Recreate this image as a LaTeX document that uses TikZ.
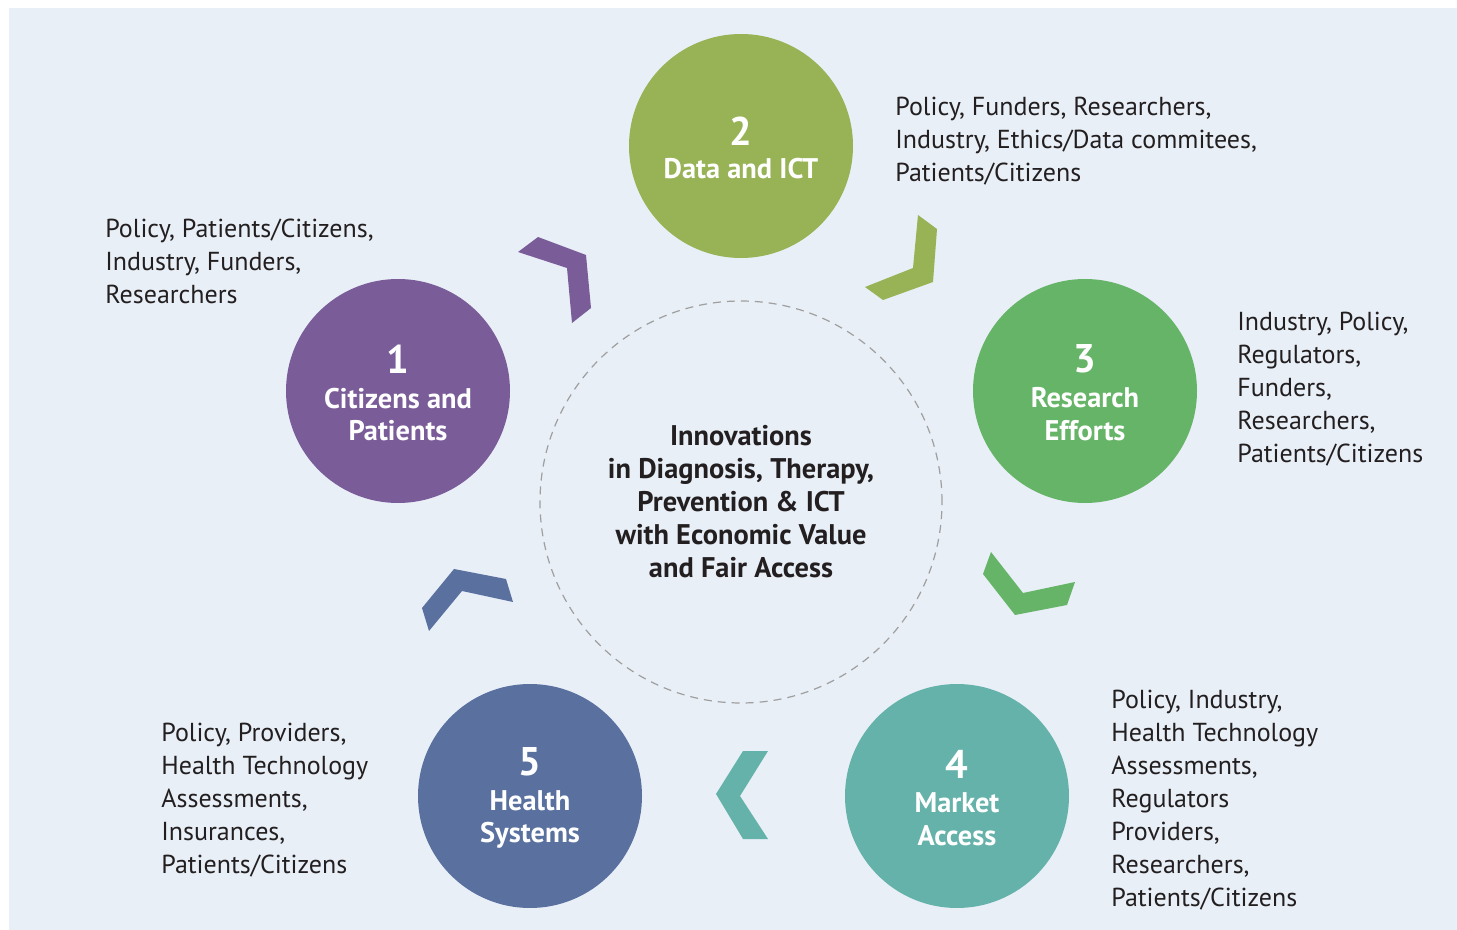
\documentclass[tikz,border=0pt]{standalone}
\usepackage{fontspec}
\setmainfont{PT Sans}
\usetikzlibrary{positioning}

\definecolor{bgblue}{HTML}{E8EFF7}
\definecolor{ink}{HTML}{231F20}
\definecolor{purp}{HTML}{7A5C99}
\definecolor{olive}{HTML}{97B355}
\definecolor{grn}{HTML}{66B468}
\definecolor{teal}{HTML}{64B2A9}
\definecolor{navy}{HTML}{5A71A0}

\newcommand{\stnum}[1]{{\fontsize{20}{20}\selectfont #1}}

\begin{document}
\begin{tikzpicture}[x=0.5pt, y=-0.5pt,
    stage/.style={circle, minimum size=112pt, inner sep=0, fill=#1},
    stagetext/.style={inner sep=0, yshift=-1pt, text=white, align=center,
      font=\bfseries\fontsize{14.2}{16.4}\selectfont},
    actors/.style={anchor=north west, inner sep=0, align=left, text=ink,
      font=\fontsize{13}{16.5}\selectfont},
    core/.style={circle, minimum size=201pt, inner sep=0, draw=gray!75, line width=0.6pt,
      dash pattern=on 4pt off 3pt, text=ink, align=center,
      font=\bfseries\fontsize{14.2}{16.5}\selectfont}]

    % 1. Fondo
    \useasboundingbox (0,0) rectangle (1457,930);
    \fill[bgblue] (9,8) rectangle (1457,930);

    % 2. Circulo central (punteado)
    \node[core] (core) at (741,502) {Innovations\\in Diagnosis, Therapy,\\Prevention \& ICT\\with Economic Value\\and Fair Access};

    % 3. Las cinco etapas
    \node[stage=purp]  (s1) at (398,391)  {};
    \node[stage=olive] (s2) at (741,146)  {};
    \node[stage=grn]   (s3) at (1085,391) {};
    \node[stage=teal]  (s4) at (957,796)  {};
    \node[stage=navy]  (s5) at (530,796)  {};
    \node[stagetext] (t1) at (s1) {\stnum{1}\\[1pt]Citizens and\\Patients};
    \node[stagetext] (t2) at (s2) {\stnum{2}\\[0pt]Data and ICT};
    \node[stagetext] (t3) at (s3) {\stnum{3}\\[1pt]Research\\Efforts};
    \node[stagetext] (t4) at (s4) {\stnum{4}\\[1pt]Market\\Access};
    \node[stagetext] (t5) at (s5) {\stnum{5}\\[1pt]Health\\Systems};

    % 4. Flechas (chevrons) entre etapas
    \fill[purp]  (518,252) -- (538,237) -- (586,255) -- (591,308) -- (572,323) -- (567,268) -- cycle;
    \fill[olive] (918,215) -- (937,229) -- (933,282) -- (883,300) -- (865,287) -- (913,268) -- cycle;
    \fill[grn]   (991,552) -- (983,574) -- (1015,615) -- (1067,605) -- (1075,582) -- (1023,593) -- cycle;
    \fill[teal]  (768,751) -- (743,751) -- (716,794) -- (743,839) -- (768,839) -- (740,796) -- cycle;
    \fill[navy]  (429,631) -- (422,608) -- (454,569) -- (506,579) -- (513,602) -- (462,591) -- cycle;

    % 5. Actores de cada etapa
    \node[actors] (a1) at (105,219) {Policy, Patients/Citizens,\\Industry, Funders,\\Researchers};
    \node[actors] (a2) at (895,97)  {Policy, Funders, Researchers,\\Industry, Ethics/Data commitees,\\Patients/Citizens};
    \node[actors] (a3) at (1237,312) {Industry, Policy,\\Regulators,\\Funders,\\Researchers,\\Patients/Citizens};
    \node[actors] (a4) at (1111,690) {Policy, Industry,\\Health Technology\\Assessments,\\Regulators\\Providers,\\Researchers,\\Patients/Citizens};
    \node[actors] (a5) at (161,723) {Policy, Providers,\\Health Technology\\Assessments,\\Insurances,\\Patients/Citizens};

\end{tikzpicture}
\end{document}
